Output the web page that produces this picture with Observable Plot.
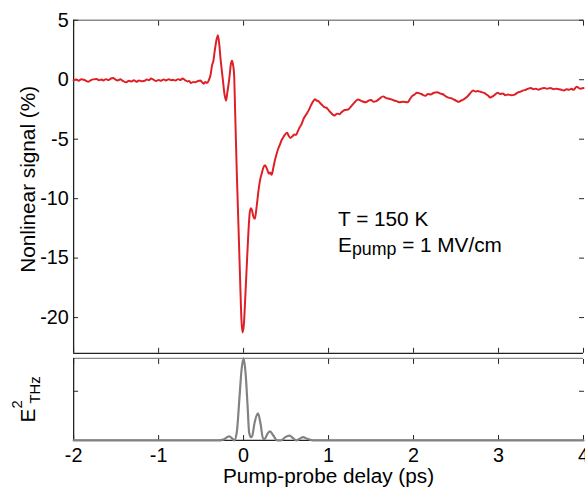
<!DOCTYPE html>
<html><head><meta charset="utf-8">
<script src="https://cdn.jsdelivr.net/npm/d3@7"></script>
<script src="https://cdn.jsdelivr.net/npm/@observablehq/plot@0.6"></script>
<style>
html,body{margin:0;padding:0;background:#fff;overflow:hidden;}
#chart{width:585px;height:492px;overflow:hidden;}
#chart svg{display:block;}
</style></head><body><div id="chart"></div>
<script>
// Top panel: nonlinear signal (%) vs pump-probe delay (ps)
const redDelay = [
 -2.00,-1.97,-1.94,-1.91,-1.88,-1.85,-1.83,-1.80,-1.77,-1.73,-1.70,-1.67,-1.65,-1.62,-1.59,-1.56,-1.535,-1.51,-1.48,-1.45,
 -1.42,-1.38,-1.35,-1.32,-1.29,-1.26,-1.23,-1.20,-1.17,-1.14,-1.11,-1.09,-1.06,-1.03,-1.00,-0.97,-0.94,-0.915,-0.88,-0.85,
 -0.837,-0.80,-0.77,-0.74,-0.72,-0.69,-0.66,-0.64,-0.62,-0.59,-0.57,-0.54,-0.51,-0.49,-0.47,-0.45,-0.43,-0.41,-0.39,-0.37,
 -0.355,-0.34,-0.32,-0.302,-0.285,-0.27,-0.255,-0.244,-0.225,-0.205,-0.19,-0.18,-0.165,-0.15,-0.136,-0.125,-0.112,-0.10,-0.08,-0.058,
 -0.04,-0.025,-0.012,0.003,0.02,0.047,0.074,0.088,0.10,0.115,0.132,0.15,0.174,0.195,0.213,0.232,0.252,0.275,0.298,0.315,
 0.33,0.35,0.368,0.39,0.407,0.425,0.446,0.47,0.49,0.512,0.53,0.55,0.575,0.60,0.616,0.64,0.66,0.678,0.705,0.735,
 0.764,0.79,0.82,0.84,0.86,0.88,0.90,0.92,0.95,0.977,1.00,1.03,1.07,1.10,1.13,1.15,1.19,1.23,1.27,1.30,
 1.345,1.39,1.44,1.47,1.50,1.53,1.56,1.60,1.64,1.68,1.71,1.74,1.77,1.80,1.83,1.88,1.93,1.96,1.98,2.01,
 2.04,2.09,2.14,2.17,2.20,2.24,2.28,2.31,2.34,2.38,2.41,2.44,2.47,2.50,2.53,2.56,2.58,2.62,2.66,2.70,
 2.73,2.75,2.80,2.83,2.85,2.88,2.90,2.93,2.95,2.99,3.02,3.05,3.08,3.11,3.15,3.19,3.22,3.26,3.29,3.32,
 3.35,3.38,3.41,3.44,3.47,3.50,3.54,3.57,3.61,3.65,3.68,3.71,3.74,3.77,3.80,3.83,3.86,3.88,3.92,3.96,4.00
];
const redSignal = [
 -0.06,0.02,-0.08,0.04,0.00,-0.10,-0.17,-0.05,0.03,0.06,-0.04,0.02,-0.06,0.05,-0.03,0.10,0.14,0.02,-0.06,0.04,
 -0.10,-0.22,-0.08,-0.15,-0.05,-0.17,-0.06,-0.12,-0.11,0.02,-0.04,0.11,0.00,-0.11,-0.02,-0.09,0.03,-0.06,0.04,-0.05,
 0.00,-0.07,0.05,-0.02,0.11,-0.03,-0.14,-0.10,-0.28,-0.18,-0.22,-0.12,-0.06,-0.20,-0.33,-0.20,-0.28,-0.05,0.35,1.25,
 1.6,2.4,3.3,3.75,2.9,1.67,0.7,0.0,-1.2,-1.75,-1.0,-0.55,0.3,1.3,1.6,1.3,0.5,-2.5,-7.8,-12.8,
 -17.0,-20.2,-21.25,-20.6,-18.3,-14.2,-11.1,-10.8,-11.0,-11.5,-11.7,-10.9,-9.4,-8.4,-7.9,-7.4,-7.2,-7.5,-7.9,-7.8,
 -8.0,-7.4,-6.8,-6.2,-5.8,-5.5,-5.1,-4.8,-4.6,-4.45,-4.7,-4.9,-4.75,-4.6,-4.65,-4.3,-4.0,-3.8,-3.3,-2.95,
 -2.6,-2.2,-1.8,-1.65,-1.75,-1.8,-1.95,-2.1,-2.3,-2.36,-2.55,-2.8,-3.0,-2.85,-2.9,-2.75,-2.55,-2.5,-2.2,-1.95,
 -1.67,-1.8,-1.9,-1.75,-1.7,-1.85,-1.8,-1.6,-1.4,-1.55,-1.6,-1.65,-1.75,-1.8,-1.9,-1.85,-1.9,-1.6,-1.4,-1.25,
 -1.1,-1.2,-1.35,-1.2,-1.25,-1.1,-1.05,-1.15,-1.2,-1.4,-1.5,-1.55,-1.65,-1.75,-1.86,-1.75,-1.7,-1.5,-1.2,-0.9,
 -1.0,-0.95,-1.05,-1.1,-1.2,-1.35,-1.5,-1.4,-1.3,-1.1,-1.2,-1.15,-1.3,-1.25,-1.3,-1.25,-1.1,-1.0,-0.9,-0.85,
 -0.75,-0.7,-0.8,-0.75,-0.85,-0.75,-0.7,-0.75,-0.7,-0.8,-0.75,-0.8,-0.85,-0.9,-0.8,-0.85,-0.75,-0.85,-0.6,-0.75,-0.7
];
// Bottom panel: E_THz^2 (normalised)
const thzDelay = [-2.0,-0.30,-0.24,-0.17,-0.13,-0.11,-0.08,-0.05,-0.025,0.0,0.025,0.047,0.065,0.085,0.10,0.13,0.17,0.20,0.23,0.25,0.28,0.31,0.35,0.395,0.44,0.49,0.54,0.58,0.62,0.66,0.70,0.75,0.82,4.0];
const thzSignal = [0,0,0.01,0.05,0.02,0,0.1,0.5,0.85,1.0,0.8,0.42,0.1,0.04,0.05,0.22,0.33,0.2,0.02,0.02,0.08,0.11,0.06,0,0,0.04,0.06,0.03,0,0.02,0.04,0.02,0,0];

const xTicks = [-2,-1,0,1,2,3,4];
const yTicks = [-20,-15,-10,-5,0,5];
const thzTicks = [0.6];
const xLabel = "Pump-probe delay (ps)";
const yLabel = "Nonlinear signal (%)";
const thzLabel = "E2THz";
const annotationLines = ["T = 150 K", "Epump = 1 MV/cm"];
const annotationDelay = [1.112, 1.112];
const annotationSignal = [-12.28, -14.52];

const red = redDelay.map((t, i) => ({t, v: redSignal[i]}));
const thz = thzDelay.map((t, i) => ({t, v: thzSignal[i]}));
const font = "'Liberation Sans', Arial, Helvetica, sans-serif";
const blank = () => "";
const axisColor = "#222";
const frameGray = "#8a8a8a";

const topPlot = Plot.plot({
  width: 592, height: 358,
  marginLeft: 74, marginRight: 2, marginTop: 20, marginBottom: 1,
  style: {fontFamily: font, fontSize: "20px", color: "#000", background: "transparent", overflow: "visible"},
  x: {domain: [-2, 4]},
  y: {domain: [-23, 5]},
  marks: [
    Plot.ruleY([5], {stroke: frameGray, strokeWidth: 1.3}),
    Plot.ruleY([-23], {stroke: axisColor, strokeWidth: 1.3}),
    Plot.ruleX([-2], {stroke: axisColor, strokeWidth: 1.3}),
    Plot.axisX(xTicks, {anchor: "top", tickSize: -5, tickFormat: blank, label: null, stroke: axisColor}),
    Plot.axisX(xTicks, {anchor: "bottom", tickSize: -5, tickFormat: blank, label: null, stroke: axisColor}),
    Plot.axisY(yTicks, {anchor: "left", tickSize: -5, tickFormat: blank, label: null, stroke: axisColor}),
    Plot.axisY(yTicks, {anchor: "right", tickSize: -5, tickFormat: blank, label: null, stroke: axisColor}),
    Plot.line(red, {x: "t", y: "v", stroke: "#df1f26", strokeWidth: 2, curve: "monotone-x"}),
    Plot.axisY(yTicks, {anchor: "left", tickSize: 0, tickPadding: 5, tickFormat: d => String(d), label: null, fontSize: 20}),
    Plot.text([yLabel], {frameAnchor: "left", rotate: -90, dx: -45.7, dy: -7.5, fontSize: 21, textAnchor: "middle", lineAnchor: "middle"}),
    Plot.text(annotationLines, {x: (d, i) => annotationDelay[i], y: (d, i) => annotationSignal[i], text: d => d, textAnchor: "start", lineAnchor: "bottom", fontSize: 21})
  ]
});

const bottomPlot = Plot.plot({
  width: 592, height: 134,
  marginLeft: 74, marginRight: 2, marginTop: 4, marginBottom: 47,
  style: {fontFamily: font, fontSize: "20px", color: "#000", background: "transparent", overflow: "visible"},
  x: {domain: [-2, 4]},
  y: {domain: [0, 1]},
  marks: [
    Plot.ruleY([1], {stroke: frameGray, strokeWidth: 1.3}),
    Plot.ruleX([-2], {stroke: axisColor, strokeWidth: 1.3}),
    Plot.ruleY([0], {stroke: axisColor, strokeWidth: 1.3}),
    Plot.axisX(xTicks, {anchor: "top", tickSize: -5, tickFormat: blank, label: null, stroke: axisColor}),
    Plot.axisX(xTicks, {anchor: "bottom", tickSize: -5, tickFormat: blank, label: null, stroke: axisColor}),
    Plot.axisY(thzTicks, {anchor: "left", tickSize: -5, tickFormat: blank, label: null, stroke: axisColor}),
    Plot.axisY(thzTicks, {anchor: "right", tickSize: -5, tickFormat: blank, label: null, stroke: axisColor}),
    Plot.line(thz, {x: "t", y: "v", stroke: "#828282", strokeWidth: 2.2, curve: "monotone-x"}),
    Plot.axisX(xTicks, {anchor: "bottom", tickSize: 0, tickPadding: 8, tickFormat: d => String(d), label: null, fontSize: 20}),
    Plot.text([xLabel], {frameAnchor: "bottom", dy: 36, fontSize: 21, lineAnchor: "middle", textAnchor: "middle"}),
    Plot.text([thzLabel], {frameAnchor: "left", rotate: -90, dx: -45.7, dy: 0, fontSize: 21, textAnchor: "middle", lineAnchor: "middle"})
  ]
});

const chart = document.getElementById("chart");
chart.appendChild(topPlot);
chart.appendChild(bottomPlot);

// Sub/superscripts on text drawn by Plot
for (const t of topPlot.querySelectorAll("text")) {
  if (t.textContent === annotationLines[1]) {
    t.innerHTML = 'E<tspan dy="3" font-size="18">pump</tspan><tspan dy="-3"> = 1 MV/cm</tspan>';
  }
}
for (const t of bottomPlot.querySelectorAll("text")) {
  if (t.textContent === thzLabel) {
    t.innerHTML = 'E<tspan dy="-13" font-size="15">2</tspan><tspan dx="-3.3" dy="18" font-size="15">THz</tspan>';
  }
}
</script></body></html>
